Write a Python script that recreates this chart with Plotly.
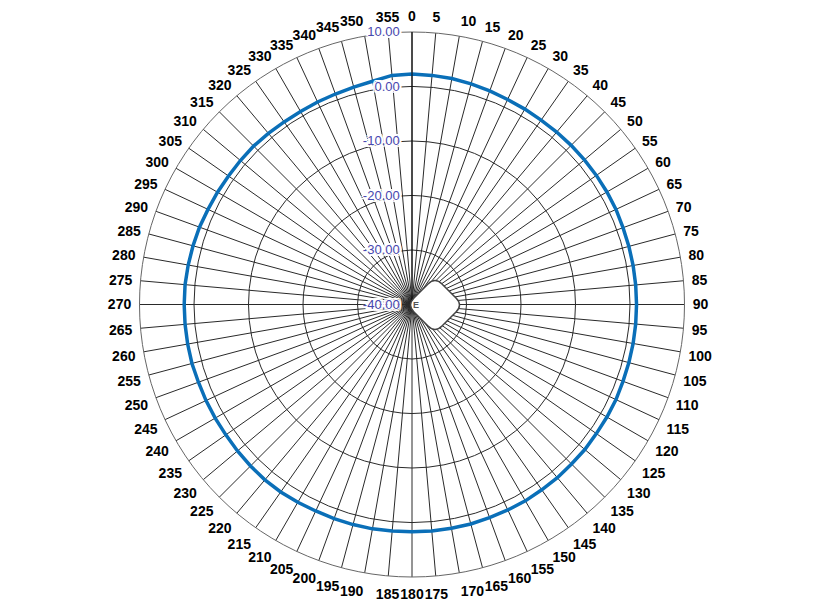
import plotly.graph_objects as go

# measured gain (dB) every 5 degrees, 0 = north, clockwise
angles = list(range(0, 360, 5))
gain_db = [
    2.3, 2.2, 2.1, 1.9, 1.7, 1.5, 1.4, 1.3, 1.3, 1.3, 1.3, 1.3,   # 0-55
    1.3, 1.3, 1.2, 1.2, 1.2, 1.2, 1.2, 1.2, 1.2, 1.2, 1.2, 1.3,   # 60-115
    1.3, 1.3, 1.4, 1.4, 1.5, 1.5, 1.6, 1.6, 1.6, 1.7, 1.7, 1.7,   # 120-175
    1.7, 1.7, 1.8, 1.8, 1.8, 1.8, 1.9, 2.0, 2.0, 1.9, 1.8, 1.7,   # 180-235
    1.7, 1.7, 1.7, 1.8, 1.8, 1.8, 1.8, 1.8, 1.7, 1.6, 1.5, 1.3,   # 240-295
    1.2, 1.1, 1.1, 1.1, 1.0, 0.9, 0.9, 1.0, 1.1, 1.3, 1.6, 2.2,   # 300-355
]
# close the loop
theta = angles + [angles[0]]
r = gain_db + [gain_db[0]]

radial_ticks = [-40, -30, -20, -10, 0, 10]
# trailing non-breaking spaces nudge the centred labels left of the 0 deg spoke
radial_text = ["%.2f" % v + "\u00a0\u00a0" for v in radial_ticks]
angle_text = [str(a) for a in angles]

W, H = 818, 611
ml, mr, mt, mb = 0, 10, 24, 42
PAGE = 8  # body margin of the html page

fig = go.Figure()
fig.add_trace(go.Scatterpolar(
    r=r, theta=theta, mode="lines",
    line=dict(color="#0a6fb8", width=3.5),
    hoverinfo="r+theta",
))


def px2paper(x, y):
    return (x - PAGE - ml) / (W - ml - mr), 1 - (y - PAGE - mt) / (H - mt - mb)


# access point icon drawn at the pattern centre (decoration only)
cx, cy, hd, d = 435, 305, 28, 7
pts = [
    (cx - d, cy - hd + d), (cx, cy - hd), (cx + d, cy - hd + d),
    (cx + hd - d, cy - d), (cx + hd, cy), (cx + hd - d, cy + d),
    (cx + d, cy + hd - d), (cx, cy + hd), (cx - d, cy + hd - d),
    (cx - hd + d, cy + d), (cx - hd, cy), (cx - hd + d, cy - d),
]
pp = [px2paper(x, y) for x, y in pts]
path = "M %f,%f Q %f,%f %f,%f" % (pp[0] + pp[1] + pp[2])
for i in range(3, 12, 3):
    path += " L %f,%f Q %f,%f %f,%f" % (pp[i] + pp[i + 1] + pp[i + 2])
path += " Z"

ex, ey = px2paper(416, 305)

halo = ", ".join("%dpx %dpx 0 white" % (a, b)
                 for a in (-2, 0, 2) for b in (-2, 0, 2) if a or b)

fig.update_layout(
    width=W, height=H,
    margin=dict(l=ml, r=mr, t=mt, b=mb),
    paper_bgcolor="white",
    showlegend=False,
    polar=dict(
        bgcolor="white",
        angularaxis=dict(
            rotation=90, direction="clockwise",
            tickmode="array", tickvals=angles, ticktext=angle_text,
            tickfont=dict(family="Liberation Sans, Arial", size=14, color="black", weight="bold"),
            ticks="outside", ticklen=5, tickcolor="rgba(0,0,0,0)",
            showline=True, linecolor="#666666", linewidth=1,
            gridcolor="#2a2a2a", gridwidth=1, griddash="solid",
        ),
        radialaxis=dict(
            range=[-40, 10], angle=90, side="counterclockwise",
            tickmode="array", tickvals=radial_ticks, ticktext=radial_text,
            tickfont=dict(family="Liberation Sans, Arial", size=13, color="#4848b0",
                          shadow=halo),
            ticks="", tickangle=90,
            showline=True, linecolor="#000000", linewidth=1,
            gridcolor="#2a2a2a", gridwidth=1, griddash="solid",
            layer="above traces",
        ),
    ),
    shapes=[dict(
        type="path", path=path, xref="paper", yref="paper", layer="above",
        fillcolor="white", line=dict(color="#444444", width=1.5),
    )],
    annotations=[dict(
        text="<b>E</b>", x=ex, y=ey,
        xref="paper", yref="paper", showarrow=False,
        font=dict(family="Liberation Sans, Arial", size=9, color="#555555"),
    )],
)

fig.write_html("out.html")
